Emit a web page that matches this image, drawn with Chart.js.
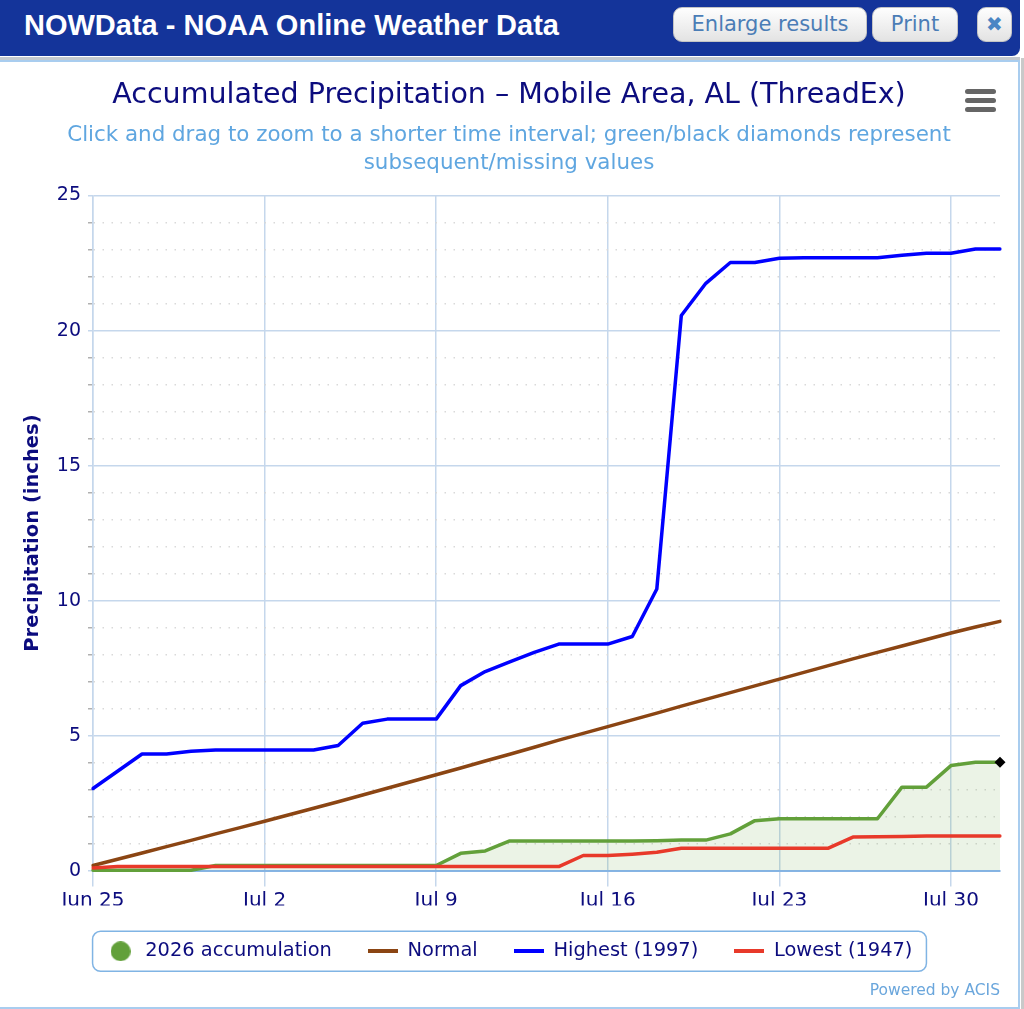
<!DOCTYPE html>
<html>
<head>
<meta charset="utf-8">
<title>Accumulated Precipitation - Mobile Area, AL</title>
<script src="https://cdn.jsdelivr.net/npm/chart.js@4.4.1/dist/chart.umd.min.js"></script>
<style>
  body { margin: 0; width: 1024px; height: 1009px; overflow: hidden; background: #fff; position: relative; font-family: "DejaVu Sans", sans-serif; }
  #bar { position: absolute; left: 0; top: 0; width: 1020px; height: 56px; background: #14349a; border-bottom-right-radius: 8px; }
  #bar h1 { position: absolute; left: 24px; top: 0; margin: 0; color: #fff; font: bold 29px "Liberation Sans", Arial, sans-serif; line-height: 50px; }
  .btn { position: absolute; top: 7px; height: 33px; border: 1px solid #c4c4c4; border-radius: 9px; background: linear-gradient(#fefefe, #e3e3e3); color: #4b7db6; font: 21px "DejaVu Sans", sans-serif; line-height: 33px; text-align: center; box-sizing: content-box; }
  #sep { position: absolute; left: 0; top: 57px; width: 1020px; height: 3px; background: #c3c8ce; }
  #panel { position: absolute; left: -2px; top: 60px; width: 1018px; height: 945px; border: 2px solid #a9cdef; }
  #scroll { position: absolute; left: 1021px; top: 58px; width: 3px; height: 951px; background: #c9c9c9; }
  #menu { position: absolute; left: 965px; top: 89px; width: 31px; }
  #menu div { height: 5px; background: #666; border-radius: 3px; margin-bottom: 4px; }
  #wrap { position: absolute; left: 2px; top: 62px; width: 1014px; height: 940px; }
  #acis { position: absolute; right: 24px; top: 981px; color: #6aa6dc; font: 15.5px "DejaVu Sans", sans-serif; }
</style>
</head>
<body>
<div id="bar">
  <h1>NOWData - NOAA Online Weather Data</h1>
  <div class="btn" style="left:673px; width:192px;">Enlarge results</div>
  <div class="btn" style="left:872px; width:84px;">Print</div>
  <div class="btn" style="left:977px; width:33px; font-size:20px; color:#4a86c4;">&#10006;</div>
</div>
<div id="sep"></div>
<div id="panel"></div>
<div id="scroll"></div>
<div id="wrap"><canvas id="myChart" width="1014" height="940"></canvas></div>
<div id="menu"><div></div><div></div><div></div></div>
<div id="acis">Powered by ACIS</div>

<script>
// fechas Jun 25 - Aug 1
const dates = ['Jun 25','Jun 26','Jun 27','Jun 28','Jun 29','Jun 30',
  'Jul 1','Jul 2','Jul 3','Jul 4','Jul 5','Jul 6','Jul 7','Jul 8','Jul 9','Jul 10',
  'Jul 11','Jul 12','Jul 13','Jul 14','Jul 15','Jul 16','Jul 17','Jul 18','Jul 19','Jul 20',
  'Jul 21','Jul 22','Jul 23','Jul 24','Jul 25','Jul 26','Jul 27','Jul 28','Jul 29','Jul 30',
  'Jul 31','Aug 1'];
const tickLabels = ['Jun 25','Jul 2','Jul 9','Jul 16','Jul 23','Jul 30'];
const yTicks = [0, 5, 10, 15, 20, 25];

const obs2026 = [0.01,0.01,0.01,0.01,0.01,0.19,0.19,0.19,0.19,0.19,
  0.19,0.19,0.19,0.19,0.19,0.64,0.73,1.10,1.10,1.10,
  1.10,1.10,1.10,1.11,1.13,1.13,1.36,1.85,1.92,1.92,
  1.92,1.92,1.92,3.09,3.09,3.89,4.01,4.01];
const normal = [0.19,0.42,0.65,0.89,1.12,1.36,1.59,1.83,2.07,2.31,
  2.55,2.80,3.05,3.30,3.55,3.80,4.06,4.31,4.57,4.83,
  5.08,5.33,5.58,5.83,6.09,6.34,6.59,6.84,7.09,7.34,
  7.59,7.84,8.08,8.32,8.56,8.80,9.02,9.23];
const highest = [3.04,3.68,4.32,4.32,4.42,4.47,4.47,4.47,4.47,4.47,
  4.63,5.46,5.61,5.61,5.61,6.85,7.37,7.73,8.08,8.39,
  8.39,8.39,8.67,10.43,20.56,21.75,22.52,22.52,22.68,22.70,
  22.70,22.70,22.70,22.79,22.86,22.86,23.02,23.02];
const lowest = [0.10,0.15,0.15,0.15,0.15,0.15,0.15,0.15,0.15,0.15,
  0.15,0.15,0.15,0.15,0.15,0.15,0.15,0.15,0.15,0.15,
  0.56,0.56,0.61,0.68,0.83,0.83,0.83,0.83,0.83,0.83,
  0.83,1.24,1.25,1.26,1.28,1.28,1.28,1.28];

const navy = '#0c0c7e';
const gridBlue = '#c5d7ec';

// iconos de la leyenda
function icono(tipo, color) {
  const c = document.createElement('canvas');
  const g = c.getContext('2d');
  if (tipo === 'circle') {
    c.width = 20; c.height = 20;
    g.fillStyle = color;
    g.beginPath(); g.arc(10, 10, 10, 0, Math.PI * 2); g.fill();
  } else {
    c.width = 30; c.height = 4;
    g.fillStyle = color;
    g.fillRect(0, 0, 30, 4);
  }
  return c;
}

const legendBox = {
  id: 'legendBox',
  afterDraw(chart) {
    const boxes = chart.legend.legendHitBoxes;
    if (!boxes || !boxes.length) return;
    const first = boxes[0], last = boxes[boxes.length - 1];
    const x0 = first.left - 13, x1 = last.left + last.width + 14;
    const yc = first.top + first.height / 2;
    const ctx = chart.ctx;
    ctx.save();
    ctx.strokeStyle = '#80b4e4';
    ctx.lineWidth = 1.5;
    ctx.beginPath();
    ctx.roundRect(x0, yc - 20, x1 - x0, 40, 8);
    ctx.stroke();
    ctx.restore();
  }
};

const ctx = document.getElementById('myChart');
const myChart = new Chart(ctx, {
  type: 'line',
  data: {
    labels: dates,
    datasets: [{
      label: '2026 accumulation',
      data: obs2026,
      borderColor: '#62a03a',
      backgroundColor: 'rgba(98,160,58,0.13)',
      fill: 'origin',
      borderWidth: 3.5,
      pointStyle: 'rectRot',
      pointRadius: c => c.dataIndex === dates.length - 1 ? 5.5 : 0,
      pointBackgroundColor: '#000',
      pointBorderColor: '#000',
      pointBorderWidth: 0,
      clip: false,
      order: 4,
      icon: icono('circle', '#62a03a')
    }, {
      label: 'Normal',
      data: normal,
      borderColor: '#8b4513',
      borderWidth: 3.5,
      pointRadius: 0,
      fill: false,
      order: 3,
      icon: icono('line', '#8b4513')
    }, {
      label: 'Highest (1997)',
      data: highest,
      borderColor: '#0000ff',
      borderWidth: 3.5,
      pointRadius: 0,
      fill: false,
      order: 2,
      icon: icono('line', '#0000ff')
    }, {
      label: 'Lowest (1947)',
      data: lowest,
      borderColor: '#e8392a',
      borderWidth: 3.5,
      pointRadius: 0,
      fill: false,
      order: 1,
      icon: icono('line', '#e8392a')
    }]
  },
  options: {
    responsive: false,
    animation: false,
    layout: { padding: { left: 16, right: 16, top: 0, bottom: 31 } },
    elements: { line: { tension: 0, borderJoinStyle: 'round', borderCapStyle: 'round' } },
    plugins: {
      title: {
        display: true,
        text: 'Accumulated Precipitation \u2013 Mobile Area, AL (ThreadEx)',
        color: navy,
        font: { family: 'DejaVu Sans', size: 28.5, weight: 'normal', lineHeight: 1.2 },
        padding: { top: 16, bottom: 4 }
      },
      subtitle: {
        display: true,
        text: ['Click and drag to zoom to a shorter time interval; green/black diamonds represent',
               'subsequent/missing values'],
        color: '#5fa6e0',
        font: { family: 'DejaVu Sans', size: 21.4, lineHeight: 1.27 },
        padding: { top: 6, bottom: 19 }
      },
      legend: {
        position: 'bottom',
        labels: {
          usePointStyle: true,
          pointStyleWidth: 30,
          boxHeight: 19,
          padding: 36,
          color: navy,
          font: { family: 'DejaVu Sans', size: 19.4 },
          generateLabels: chart => chart.data.datasets.map((ds, i) => ({
            text: ds.label,
            fontColor: navy,
            pointStyle: ds.icon,
            fillStyle: 'transparent',
            strokeStyle: 'transparent',
            lineWidth: 0,
            hidden: false,
            datasetIndex: i
          }))
        }
      },
      tooltip: { enabled: false }
    },
    scales: {
      x: {
        type: 'category',
        offset: false,
        grid: {
          color: c => tickLabels.includes(dates[c.index]) ? gridBlue : 'transparent',
          tickColor: c => tickLabels.includes(dates[c.index]) ? gridBlue : 'transparent',
          lineWidth: 1.5,
          tickLength: 16
        },
        border: { color: '#86b4e4', width: 2 },
        ticks: {
          autoSkip: false,
          maxRotation: 0,
          color: navy,
          padding: 2,
          font: { family: 'DejaVu Sans', size: 20 },
          callback: (v, i) => tickLabels.includes(dates[i]) ? dates[i] : ''
        },
        afterFit: s => { s.height = 35; }
      },
      y: {
        min: 0,
        max: 25,
        ticks: {
          stepSize: 1,
          color: navy,
          padding: 7,
          font: { family: 'DejaVu Sans', size: 19 },
          callback: v => yTicks.includes(v) ? v : ''
        },
        grid: {
          color: c => yTicks.includes(c.tick.value) ? gridBlue : '#d9d9d9',
          tickColor: c => yTicks.includes(c.tick.value) ? gridBlue : '#b0b0b0',
          lineWidth: 1.5,
          tickLength: 5
        },
        border: {
          color: gridBlue,
          width: 1.5,
          dash: c => (c.tick && !yTicks.includes(c.tick.value)) ? [1.5, 7.5] : []
        },
        title: {
          display: true,
          text: 'Precipitation (inches)',
          color: navy,
          font: { family: 'DejaVu Sans', size: 19.5, weight: 'bold' },
          padding: { top: 3, bottom: 0 }
        },
        afterFit: s => { s.width = 75; }
      }
    }
  },
  plugins: [legendBox]
});
</script>
</body>
</html>
